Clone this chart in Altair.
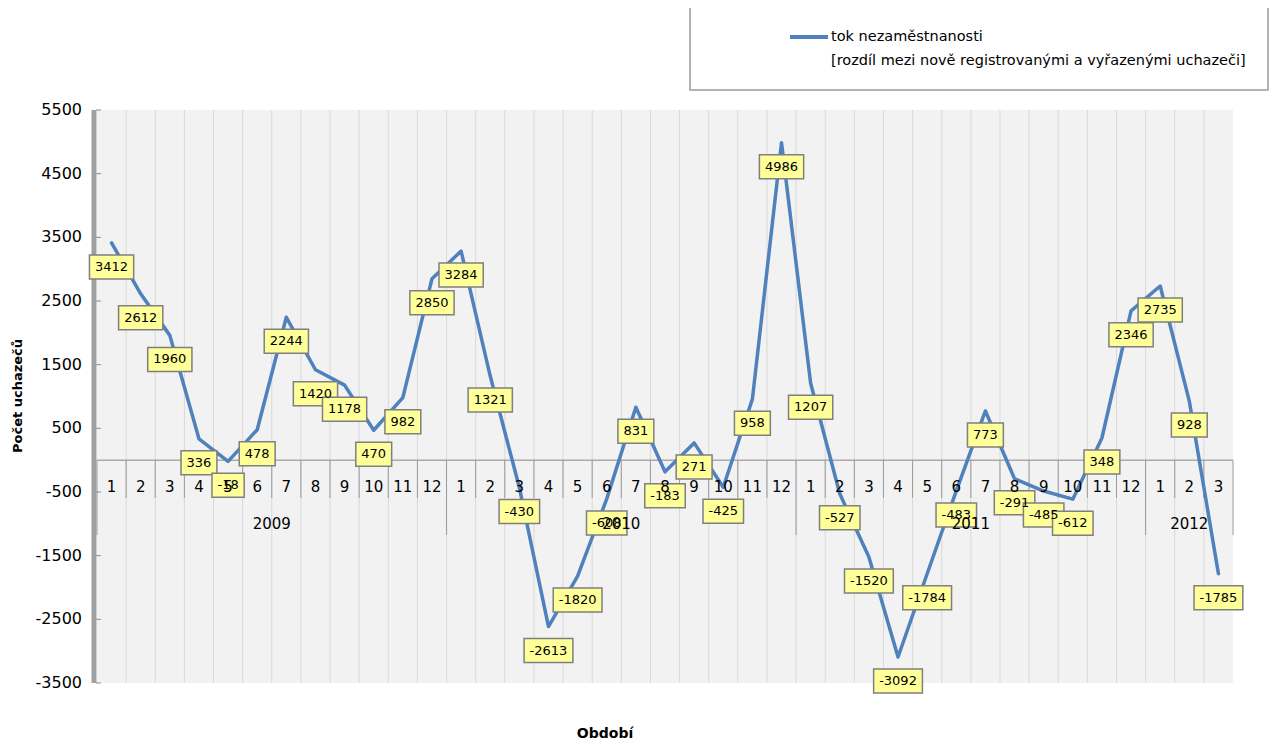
import altair as alt
import pandas as pd

# ---- data ----
values = [3412, 2612, 1960, 336, -18, 478, 2244, 1420, 1178, 470, 982, 2850,
          3284, 1321, -430, -2613, -1820, -608, 831, -183, 271, -425, 958, 4986,
          1207, -527, -1520, -3092, -1784, -483, 773, -291, -485, -612, 348, 2346,
          2735, 928, -1785]
months = [1, 2, 3, 4, 5, 6, 7, 8, 9, 10, 11, 12] * 3 + [1, 2, 3]
years = ["2009"] * 12 + ["2010"] * 12 + ["2011"] * 12 + ["2012"] * 3
y_ticks = [-3500, -2500, -1500, -500, 500, 1500, 2500, 3500, 4500, 5500]

legend_line1 = "tok nezaměstnanosti"
legend_line2 = "[rozdíl mezi nově registrovanými a vyřazenými uchazeči]"
y_title = "Počet uchazečů"
x_title = "Období"

FONT = "DejaVu Sans"


def box_path(label):
    w = 11 + sum(4.6 if c == "-" else 8.3 for c in label)
    hx = w / 2 / 30
    hy = 12 / 30
    return f"M{-hx:.3f},{-hy:.3f}L{hx:.3f},{-hy:.3f}L{hx:.3f},{hy:.3f}L{-hx:.3f},{hy:.3f}Z"


n = len(values)
df = pd.DataFrame({
    "idx": list(range(n)),
    "value": values,
    "month": [str(m) for m in months],
    "year": years,
    "label": [str(v) for v in values],
})
df["box"] = df["label"].map(box_path)

bounds = [k - 0.5 for k in range(1, n)]
year_bounds = [k - 0.5 for k in range(0, n + 1) if k % 12 == 0 or k == n]
month_bounds = [b for b in bounds if b not in year_bounds]

xs = alt.Scale(domain=[-0.5, n - 0.5], nice=False, zero=False)
ys = alt.Scale(domain=[-3500, 5500], nice=False, zero=False)

grid = alt.Chart(pd.DataFrame({"b": bounds})).mark_rule(
    color="#d9d9d9", strokeWidth=1
).encode(x=alt.X("b:Q", scale=xs, axis=None))

zero = alt.Chart(pd.DataFrame({"z": [0]})).mark_rule(
    color="#868686", strokeWidth=1
).encode(y=alt.Y("z:Q", scale=ys, axis=None))

msep = alt.Chart(pd.DataFrame({"b": month_bounds, "z": 0})).mark_rule(
    color="#9a9a9a", strokeWidth=1
).encode(x=alt.X("b:Q", scale=xs, axis=None),
         y=alt.Y("z:Q", scale=ys, axis=None),
         y2=alt.value(388))

ysep = alt.Chart(pd.DataFrame({"b": year_bounds, "z": 0})).mark_rule(
    color="#9a9a9a", strokeWidth=1
).encode(x=alt.X("b:Q", scale=xs, axis=None),
         y=alt.Y("z:Q", scale=ys, axis=None),
         y2=alt.value(425))

axis_bar = alt.Chart(pd.DataFrame({"a": [0]})).mark_rule(
    color="#a0a0a0", strokeWidth=5
).encode(x=alt.value(-3), y=alt.value(0), y2=alt.value(573))

yticks = alt.Chart(pd.DataFrame({"t": y_ticks})).mark_rule(
    color="#8c8c8c", strokeWidth=1
).encode(x=alt.value(-1), x2=alt.value(4),
         y=alt.Y("t:Q", scale=ys, axis=None))

ylabels = alt.Chart(pd.DataFrame({"t": y_ticks,
                                  "s": [str(v) for v in y_ticks]})).mark_text(
    font=FONT, fontSize=16, color="#000000", align="right", baseline="middle"
).encode(x=alt.value(-15),
         y=alt.Y("t:Q", scale=ys, axis=None),
         text="s:N")

ytitle = alt.Chart(pd.DataFrame({"t": [y_title]})).mark_text(
    font=FONT, fontSize=13, fontWeight="bold", color="#000000",
    align="center", baseline="middle", angle=270
).encode(x=alt.value(-79), y=alt.value(286), text="t:N")

line = alt.Chart(df).mark_line(
    color="#4f81bd", strokeWidth=3.5, strokeJoin="round", strokeCap="round"
).encode(
    x=alt.X("idx:Q", scale=xs, axis=None),
    y=alt.Y("value:Q", scale=ys, axis=None),
)

boxes = alt.Chart(df).mark_point(
    filled=True, fill="#ffff99", stroke="#7f7f7f", strokeWidth=1.5,
    opacity=1, size=3600, yOffset=24
).encode(
    x=alt.X("idx:Q", scale=xs, axis=None),
    y=alt.Y("value:Q", scale=ys, axis=None),
    shape=alt.Shape("box:N", scale=None, legend=None),
)

box_text = alt.Chart(df).mark_text(
    font=FONT, fontSize=13, color="#000000", baseline="middle", align="center",
    yOffset=24
).encode(
    x=alt.X("idx:Q", scale=xs, axis=None),
    y=alt.Y("value:Q", scale=ys, axis=None),
    text="label:N",
)

month_text = alt.Chart(df).mark_text(
    font=FONT, fontSize=15, color="#000000", baseline="middle", align="center"
).encode(
    x=alt.X("idx:Q", scale=xs, axis=None),
    y=alt.value(377),
    text="month:N",
)

year_text = alt.Chart(df).mark_text(
    font=FONT, fontSize=15, color="#000000", baseline="middle", align="center"
).encode(
    x=alt.X("mean(idx):Q", scale=xs, axis=None),
    y=alt.value(414),
    text="year:N",
)

xtitle = alt.Chart(pd.DataFrame({"t": [x_title]})).mark_text(
    font=FONT, fontSize=14, fontWeight="bold", color="#000000",
    baseline="alphabetic", align="center"
).encode(x=alt.value(508), y=alt.value(628), text="t:N")

legend_box = alt.Chart(pd.DataFrame({"a": [0]})).mark_rect(
    fill="#ffffff", stroke="#9a9a9a", strokeWidth=1.5
).encode(x=alt.value(593), x2=alt.value(1171), y=alt.value(-103), y2=alt.value(-20))

legend_line = alt.Chart(pd.DataFrame({"a": [0]})).mark_rule(
    color="#4f81bd", strokeWidth=4
).encode(x=alt.value(693), x2=alt.value(731), y=alt.value(-73))

legend_text = alt.Chart(pd.DataFrame({"t": [legend_line1, legend_line2],
                                      "yy": [-73, -49]})).mark_text(
    font=FONT, fontSize=14.5, color="#000000", baseline="middle", align="left"
).encode(x=alt.value(734), y=alt.Y("yy:Q", scale=None, axis=None), text="t:N")

chart = alt.layer(
    grid, zero, msep, ysep, axis_bar, yticks, ylabels, ytitle, line, boxes,
    box_text, month_text, year_text, xtitle, legend_box, legend_line, legend_text
).properties(
    width=1136, height=573,
    autosize=alt.AutoSizeParams(type="none"),
    padding={"left": 89, "top": 102, "right": 36, "bottom": 60},
    background="#ffffff",
).configure_view(fill="#f2f2f2", stroke=None)

chart.save("out.html", embed_options={"renderer": "svg", "actions": False})
